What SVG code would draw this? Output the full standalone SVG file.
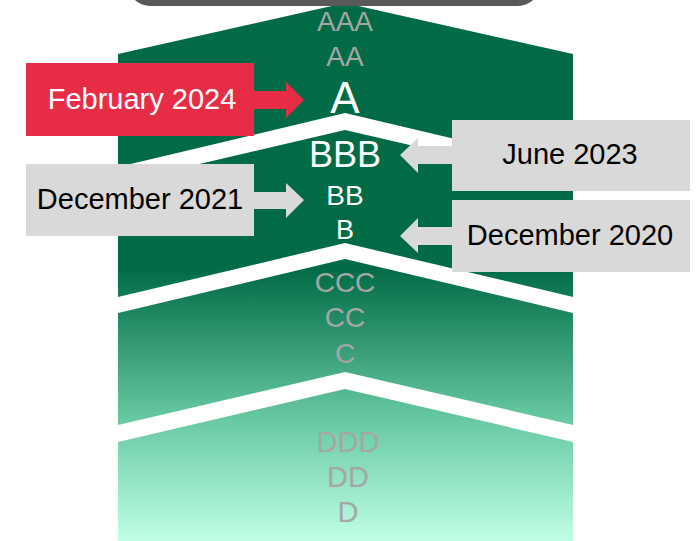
<svg xmlns="http://www.w3.org/2000/svg" width="696" height="541" viewBox="0 0 696 541">
  <defs>
    <linearGradient id="grad" gradientUnits="userSpaceOnUse" x1="0" y1="268" x2="0" y2="541">
      <stop offset="0" stop-color="#006B45"/>
      <stop offset="0.55" stop-color="#66C8A1"/>
      <stop offset="1" stop-color="#BFFFE6"/>
    </linearGradient>
    <style>
      .dark { fill: #006B45; }
      .grad { fill: url(#grad); }
      .lvl { font-family: "Liberation Sans", Arial, sans-serif; text-anchor: middle; }
      .dim { fill: #A6A6A6; }
      .hi { fill: #FFFFFF; }
      .lbl { font-family: "Liberation Sans", Arial, sans-serif; font-size: 29px; text-anchor: middle; }
      .grey { fill: #D9D9D9; }
      .red { fill: #E72D46; }
    </style>
  </defs>

  <g id="shapes">
    <polygon id="shapeA" class="dark" points="118,54 345,3 573,54 573,167 345,113 118,167"/>
    <polygon id="shapeB" class="grad" points="118,183 345,130 573,183 573,297 345,243 118,297"/>
    <polygon id="shapeC" class="grad" points="118,313 345,259 573,313 573,425 345,372 118,425"/>
    <polygon id="shapeD" class="grad" points="118,442 345,389 573,442 573,541 118,541"/>
  </g>

  <rect id="topbar" x="128" y="-40" width="412" height="46" rx="22" fill="#595959"/>

  <g id="ratings">
    <text class="lvl dim" x="345" y="31" font-size="28">AAA</text>
    <text class="lvl dim" x="345" y="66" font-size="28">AA</text>
    <text class="lvl hi" x="345" y="113" font-size="44">A</text>
    <text class="lvl hi" x="345" y="167" font-size="36">BBB</text>
    <text class="lvl hi" x="345" y="205" font-size="28">BB</text>
    <text class="lvl hi" x="345" y="239" font-size="27">B</text>
    <text class="lvl dim" x="345" y="292" font-size="28">CCC</text>
    <text class="lvl dim" x="345" y="327" font-size="28">CC</text>
    <text class="lvl dim" x="345" y="363" font-size="28">C</text>
    <text class="lvl dim" x="348" y="452" font-size="29">DDD</text>
    <text class="lvl dim" x="348" y="487" font-size="29">DD</text>
    <text class="lvl dim" x="348" y="522" font-size="29">D</text>
  </g>

  <g id="connectors">
    <polygon class="red" points="253,91 286,91 286,82 304,100 286,118 286,109 253,109"/>
    <polygon class="grey" points="253,192 286,192 286,183 304,200 286,218 286,209 253,209"/>
    <polygon class="grey" points="453,146 418,146 418,138 400,155 418,173 418,164 453,164"/>
    <polygon class="grey" points="453,227 418,227 418,218 400,236 418,253 418,245 453,245"/>
  </g>

  <g id="feb2024">
    <rect class="red" x="26" y="63" width="228" height="73"/>
    <text class="lbl" x="142" y="109" fill="#FFFFFF">February 2024</text>
  </g>
  <g id="dec2021">
    <rect class="grey" x="26" y="164" width="228" height="72"/>
    <text class="lbl" x="140" y="209" fill="#000000">December 2021</text>
  </g>
  <g id="jun2023">
    <rect class="grey" x="452" y="120" width="238" height="71"/>
    <text class="lbl" x="570" y="164" fill="#000000">June 2023</text>
  </g>
  <g id="dec2020">
    <rect class="grey" x="452" y="200" width="238" height="72"/>
    <text class="lbl" x="570" y="245" fill="#000000">December 2020</text>
  </g>
</svg>
